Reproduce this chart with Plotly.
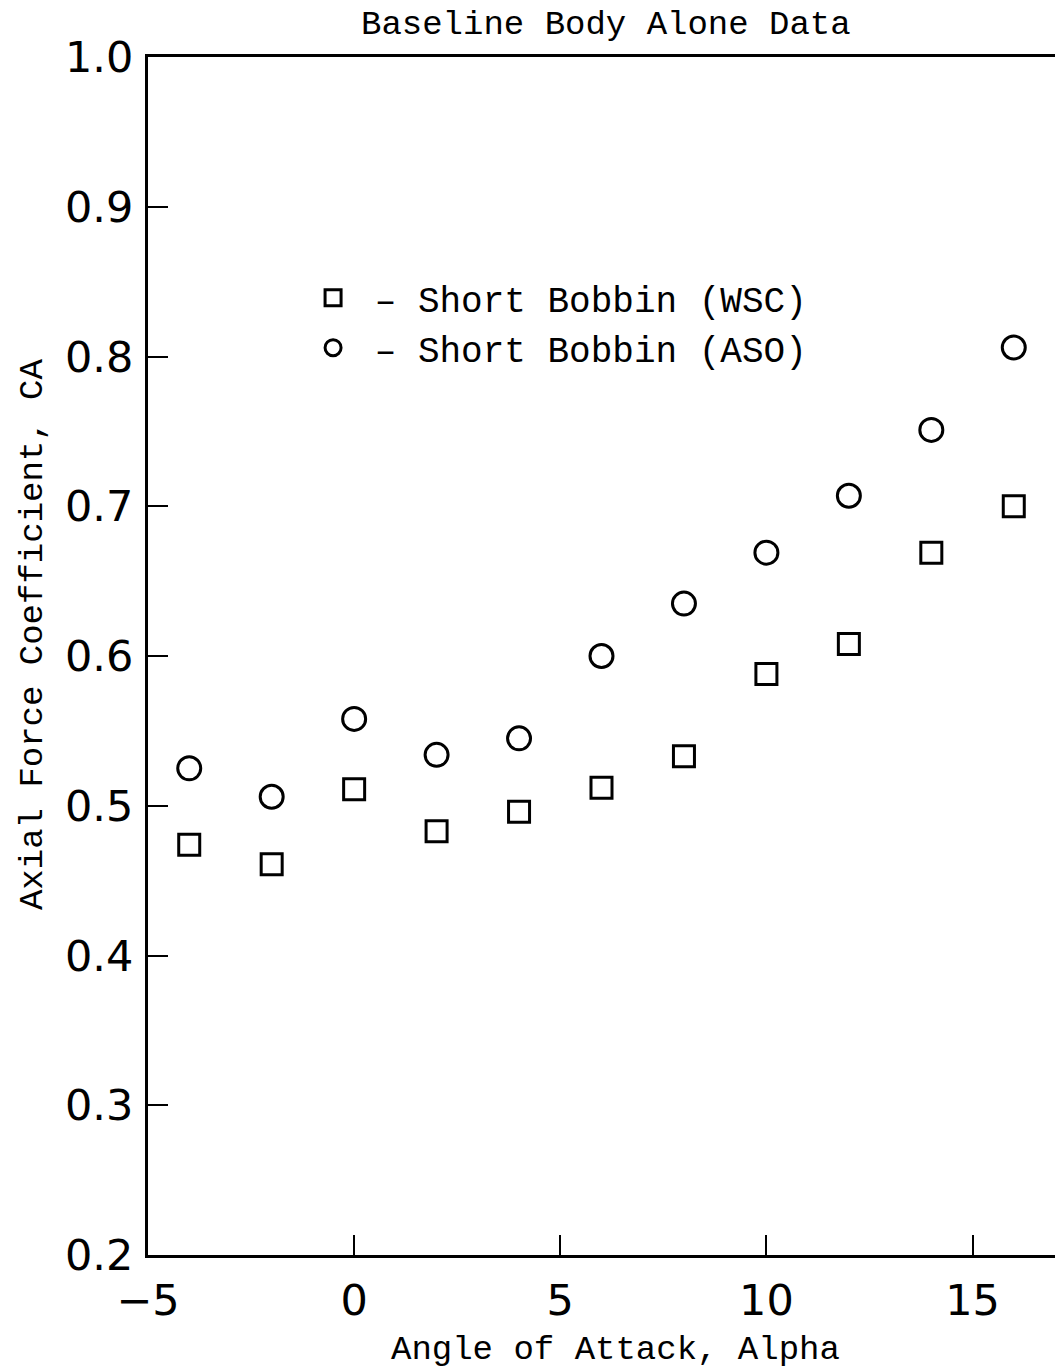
import plotly.graph_objects as go

# Data
alpha = [-4, -2, 0, 2, 4, 6, 8, 10, 12, 14, 16]
ca_wsc = [0.474, 0.461, 0.511, 0.483, 0.496, 0.512, 0.533, 0.588, 0.608, 0.669, 0.700]
ca_aso = [0.525, 0.506, 0.558, 0.534, 0.545, 0.600, 0.635, 0.669, 0.707, 0.751, 0.806]

x_ticks = [-5, 0, 5, 10, 15]
y_ticks = [0.2, 0.3, 0.4, 0.5, 0.6, 0.7, 0.8, 0.9, 1.0]

title_text = "Baseline Body Alone Data"
x_title = "Angle of Attack, Alpha"
y_title = "Axial Force Coefficient, CA"
name_wsc = "\u00a0\u2013 Short Bobbin (WSC)"
name_aso = "\u00a0\u2013 Short Bobbin (ASO)"

MONO = "Liberation Mono"
SANS = "DejaVu Sans"

fig = go.Figure()
fig.add_trace(go.Scatter(
    x=alpha, y=ca_wsc, mode="markers", name=name_wsc,
    marker=dict(symbol="square-open", size=21, color="black", line=dict(width=3, color="black")),
))
fig.add_trace(go.Scatter(
    x=alpha, y=ca_aso, mode="markers", name=name_aso,
    marker=dict(symbol="circle-open", size=23, color="black", line=dict(width=3, color="black")),
))

fig.update_layout(
    width=1055, height=1371,
    margin=dict(l=148, r=0, t=57, b=116),
    paper_bgcolor="white", plot_bgcolor="white",
    showlegend=True,
    legend=dict(
        x=0.182, y=0.8239, xanchor="left", yanchor="top",
        bgcolor="rgba(0,0,0,0)", borderwidth=0,
        font=dict(family=MONO, size=36, color="black"),
        itemclick=False, itemdoubleclick=False,
    ),
    xaxis=dict(
        range=[-5, 17], tickvals=x_ticks, ticktext=[("\u2212" + str(abs(v))) if v < 0 else str(v) for v in x_ticks],
        showgrid=False, zeroline=False,
        showline=True, linecolor="black", linewidth=3, mirror=True,
        ticks="inside", ticklen=20, tickwidth=2, tickcolor="black",
        tickfont=dict(family=SANS, size=43, color="black"),
        ticklabelstandoff=5,
    ),
    yaxis=dict(
        range=[0.2, 1.0], tickvals=y_ticks, ticktext=[f"{v:.1f}" for v in y_ticks],
        showgrid=False, zeroline=False,
        showline=True, linecolor="black", linewidth=3, mirror=False,
        ticks="inside", ticklen=20, tickwidth=2, tickcolor="black",
        tickfont=dict(family=SANS, size=43, color="black"),
        ticklabelstandoff=3,
    ),
    annotations=[
        dict(text=title_text, xref="paper", yref="paper", x=0.505, y=1.0,
             xanchor="center", yanchor="middle", yshift=32, showarrow=False,
             font=dict(family=MONO, size=34, color="black")),
        dict(text=x_title, xref="paper", yref="paper", x=0.515, y=0.0,
             xanchor="center", yanchor="middle", yshift=-95, showarrow=False,
             font=dict(family=MONO, size=34, color="black")),
        dict(text=y_title, xref="paper", yref="paper", x=0.0, y=0.5175,
             xanchor="center", yanchor="middle", xshift=-115, textangle=-90, showarrow=False,
             font=dict(family=MONO, size=34, color="black")),
    ],
)

fig.write_html("out.html")
